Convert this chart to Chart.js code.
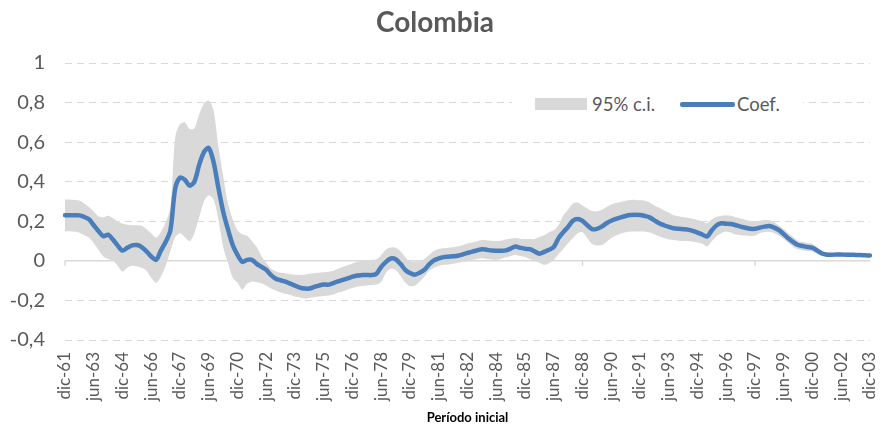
<!DOCTYPE html>
<html>
<head>
<meta charset="utf-8">
<script src="https://cdn.jsdelivr.net/npm/chart.js@4.4.1/dist/chart.umd.min.js"></script>
<style>
  body { margin: 0; background: #fff; }
  #wrap { position: relative; width: 881px; height: 429px; }
  #legend { position: absolute; left: 512px; top: 92px; width: 291px; height: 24px; background: #fff;
            font-family: Lato, sans-serif; font-size: 18.5px; color: #595959; line-height: 24px; }
  #legend .box { position: absolute; left: 23px; top: 6px; width: 52px; height: 12px; background: #d9d9d9; }
  #legend .line { position: absolute; left: 168px; top: 10px; width: 55px; height: 4.5px; background: #4a7ebb; border-radius: 2px; }
  #legend span { position: absolute; top: 0; }
</style>
</head>
<body>
<div id="wrap">
  <canvas id="chart" width="881" height="429"></canvas>
  <div id="legend">
    <div class="box"></div><span style="left:80px">95% c.i.</span>
    <div class="line"></div><span style="left:225px">Coef.</span>
  </div>
</div>
<script>
// tick labels shown on the x axis (every 6 quarters)
const tickLabels = ["dic-61", "jun-63", "dic-64", "jun-66", "dic-67", "jun-69", "dic-70", "jun-72",
  "dic-73", "jun-75", "dic-76", "jun-78", "dic-79", "jun-81", "dic-82", "jun-84", "dic-85", "jun-87",
  "dic-88", "jun-90", "dic-91", "jun-93", "dic-94", "jun-96", "dic-97", "jun-99", "dic-00", "jun-02", "dic-03"];

// quarterly estimates, dic-61 .. dic-03
const coef = [
  0.23, 0.23, 0.23, 0.23, 0.222, 0.21, 0.18, 0.15, 0.125, 0.132,
  0.108, 0.077, 0.052, 0.066, 0.078, 0.08, 0.07, 0.048, 0.022, 0.005,
  0.052, 0.095, 0.155, 0.365, 0.42, 0.41, 0.38, 0.40, 0.485, 0.55,
  0.57, 0.50, 0.37, 0.25, 0.16, 0.08, 0.03, -0.005, 0.005, 0.005,
  -0.015, -0.03, -0.045, -0.072, -0.09, -0.098, -0.105, -0.115, -0.125, -0.135,
  -0.14, -0.14, -0.132, -0.125, -0.12, -0.12, -0.112, -0.104, -0.096, -0.088,
  -0.08, -0.074, -0.072, -0.071, -0.072, -0.065, -0.03, -0.005, 0.012, 0.008,
  -0.015, -0.045, -0.062, -0.07, -0.06, -0.045, -0.018, 0.002, 0.012, 0.019,
  0.021, 0.023, 0.026, 0.033, 0.04, 0.047, 0.053, 0.059, 0.056, 0.052,
  0.051, 0.051, 0.053, 0.062, 0.072, 0.066, 0.061, 0.059, 0.048, 0.036,
  0.045, 0.056, 0.07, 0.115, 0.145, 0.172, 0.203, 0.212, 0.202, 0.18,
  0.16, 0.162, 0.173, 0.19, 0.203, 0.212, 0.22, 0.227, 0.232, 0.233,
  0.232, 0.227, 0.22, 0.205, 0.19, 0.18, 0.172, 0.165, 0.162, 0.16,
  0.158, 0.152, 0.143, 0.133, 0.123, 0.155, 0.18, 0.19, 0.188, 0.186,
  0.18, 0.173, 0.167, 0.162, 0.162, 0.168, 0.173, 0.176, 0.168, 0.155,
  0.135, 0.113, 0.095, 0.08, 0.075, 0.07, 0.066, 0.052, 0.037, 0.031,
  0.031, 0.032, 0.032, 0.031, 0.031, 0.03, 0.029, 0.028, 0.027
];

const upper = [
  0.31, 0.31, 0.308, 0.305, 0.29, 0.272, 0.25, 0.225, 0.22, 0.228,
  0.215, 0.198, 0.188, 0.183, 0.18, 0.18, 0.177, 0.16, 0.14, 0.118,
  0.145, 0.195, 0.27, 0.625, 0.69, 0.70, 0.667, 0.67, 0.74, 0.795,
  0.81, 0.76, 0.58, 0.43, 0.29, 0.21, 0.155, 0.135, 0.127, 0.10,
  0.07, 0.025, -0.01, -0.04, -0.052, -0.06, -0.063, -0.068, -0.07, -0.07,
  -0.07, -0.065, -0.063, -0.06, -0.058, -0.055, -0.05, -0.04, -0.03, -0.022,
  -0.013, -0.005, 0, 0.003, 0.005, 0.008, 0.03, 0.058, 0.068, 0.066,
  0.048, 0.02, -0.003, -0.003, -0.003, 0.01, 0.03, 0.05, 0.06, 0.064,
  0.066, 0.069, 0.072, 0.08, 0.088, 0.093, 0.099, 0.106, 0.104, 0.102,
  0.10, 0.102, 0.108, 0.112, 0.115, 0.112, 0.11, 0.11, 0.11, 0.12,
  0.13, 0.145, 0.155, 0.18, 0.23, 0.26, 0.29, 0.295, 0.28, 0.265,
  0.252, 0.25, 0.258, 0.272, 0.285, 0.292, 0.298, 0.304, 0.308, 0.308,
  0.306, 0.304, 0.295, 0.28, 0.268, 0.255, 0.245, 0.23, 0.226, 0.222,
  0.218, 0.213, 0.207, 0.20, 0.19, 0.21, 0.223, 0.228, 0.231, 0.228,
  0.22, 0.214, 0.208, 0.202, 0.20, 0.203, 0.206, 0.205, 0.195, 0.178,
  0.16, 0.14, 0.12, 0.10, 0.095, 0.09, 0.085, 0.065, 0.048, 0.042,
  0.04, 0.038, 0.037, 0.036, 0.035, 0.035, 0.035, 0.034, 0.033
];

const lower = [
  0.15, 0.15, 0.148, 0.142, 0.13, 0.118, 0.09, 0.055, 0.022, 0.01,
  0.002, -0.025, -0.055, -0.035, -0.025, -0.028, -0.035, -0.05, -0.085, -0.11,
  -0.08, -0.025, 0.05, 0.12, 0.14, 0.12, 0.10, 0.14, 0.22, 0.30,
  0.33, 0.31, 0.21, 0.07, -0.01, -0.085, -0.11, -0.145, -0.115, -0.105,
  -0.108, -0.113, -0.125, -0.14, -0.15, -0.16, -0.166, -0.172, -0.18, -0.185,
  -0.19, -0.188, -0.183, -0.18, -0.178, -0.175, -0.17, -0.16, -0.155, -0.145,
  -0.137, -0.13, -0.127, -0.125, -0.122, -0.12, -0.105, -0.06, -0.04, -0.045,
  -0.075, -0.11, -0.128, -0.125, -0.105, -0.08, -0.05, -0.035, -0.025, -0.02,
  -0.018, -0.015, -0.01, -0.005, -0.002, 0.005, 0.01, 0.013, 0.01, 0.007,
  0.005, 0.01, 0.018, 0.025, 0.03, 0.025, 0.02, 0.01, 0, -0.01,
  -0.02, -0.012, 0.005, 0.035, 0.06, 0.09, 0.115, 0.14, 0.145, 0.115,
  0.085, 0.078, 0.08, 0.095, 0.115, 0.128, 0.138, 0.145, 0.148, 0.149,
  0.148, 0.148, 0.143, 0.135, 0.125, 0.115, 0.108, 0.105, 0.102, 0.10,
  0.10, 0.097, 0.093, 0.088, 0.073, 0.10, 0.125, 0.14, 0.148, 0.142,
  0.133, 0.13, 0.128, 0.125, 0.128, 0.14, 0.146, 0.147, 0.14, 0.128,
  0.11, 0.09, 0.07, 0.057, 0.052, 0.05, 0.047, 0.035, 0.024, 0.022,
  0.022, 0.022, 0.022, 0.022, 0.022, 0.022, 0.022, 0.022, 0.022
];

// quarter names for the category axis
const months = ["mar", "jun", "sep", "dic"];
const periods = coef.map((_, i) => {
  const yy = (61 + Math.floor((i + 3) / 4)) % 100;
  return months[(i + 3) % 4] + "-" + String(yy).padStart(2, "0");
});

const font = "Lato, sans-serif";

// zero line with tick marks, like the Excel horizontal axis
const zeroAxis = {
  id: "zeroAxis",
  beforeDatasetsDraw(chart) {
    const { ctx, chartArea, scales: { x, y } } = chart;
    const y0 = y.getPixelForValue(0);
    ctx.save();
    ctx.strokeStyle = "#d9d9d9";
    ctx.lineWidth = 1.5;
    ctx.beginPath();
    ctx.moveTo(chartArea.left, y0);
    ctx.lineTo(chartArea.right, y0);
    x.ticks.forEach((t, i) => {
      if (i % 6 === 0) {
        const px = x.getPixelForTick(i);
        ctx.moveTo(px, y0);
        ctx.lineTo(px, y0 + 5);
      }
    });
    ctx.stroke();
    ctx.restore();
  }
};

new Chart(document.getElementById("chart"), {
  type: "line",
  data: {
    labels: periods,
    datasets: [
      {
        label: "95% c.i.",
        data: upper,
        fill: "+1",
        backgroundColor: "#d9d9d9",
        borderWidth: 0,
        pointRadius: 0,
        tension: 0.3,
        order: 1
      },
      {
        label: "lower",
        data: lower,
        fill: false,
        borderWidth: 0,
        pointRadius: 0,
        tension: 0.3,
        order: 1
      },
      {
        label: "Coef.",
        data: coef,
        fill: false,
        borderColor: "#4a7ebb",
        borderWidth: 4.5,
        pointRadius: 0,
        tension: 0.3,
        borderCapStyle: "round",
        order: 0
      }
    ]
  },
  options: {
    responsive: false,
    animation: false,
    layout: { padding: { left: 0, right: 11, top: 0, bottom: 0 } },
    plugins: {
      legend: { display: false },
      tooltip: { enabled: false },
      title: {
        display: true,
        text: "Colombia",
        color: "#595959",
        font: { family: font, size: 28, weight: "bold" },
        padding: { top: 6, bottom: 23.4 }
      }
    },
    scales: {
      x: {
        grid: { display: false, drawTicks: false },
        border: { display: false },
        ticks: {
          autoSkip: false,
          minRotation: 90,
          maxRotation: 90,
          padding: 12,
          color: "#595959",
          font: { family: font, size: 17 },
          callback: (v, i) => (i % 6 === 0 ? tickLabels[i / 6] : null)
        },
        title: {
          display: true,
          text: "Período inicial",
          color: "#000",
          font: { family: font, size: 13, weight: "bold" },
          padding: { top: 0, bottom: 3 }
        },
        afterFit: (s) => { s.height = 89; s.paddingLeft = 0; s.paddingRight = 0; }
      },
      y: {
        min: -0.4,
        max: 1,
        grid: {
          color: (c) => (c.tick && Math.abs(c.tick.value) < 1e-9 ? "rgba(0,0,0,0)" : "#d9d9d9"),
          lineWidth: 1,
          drawTicks: false
        },
        border: { display: false, dash: [7, 5] },
        ticks: {
          stepSize: 0.2,
          padding: 20,
          color: "#595959",
          font: { family: font, size: 20 },
          callback: (v) => String(Math.round(v * 10) / 10).replace(".", ",")
        },
        afterFit: (s) => { s.width = 65; }
      }
    }
  },
  plugins: [zeroAxis]
});
</script>
</body>
</html>
